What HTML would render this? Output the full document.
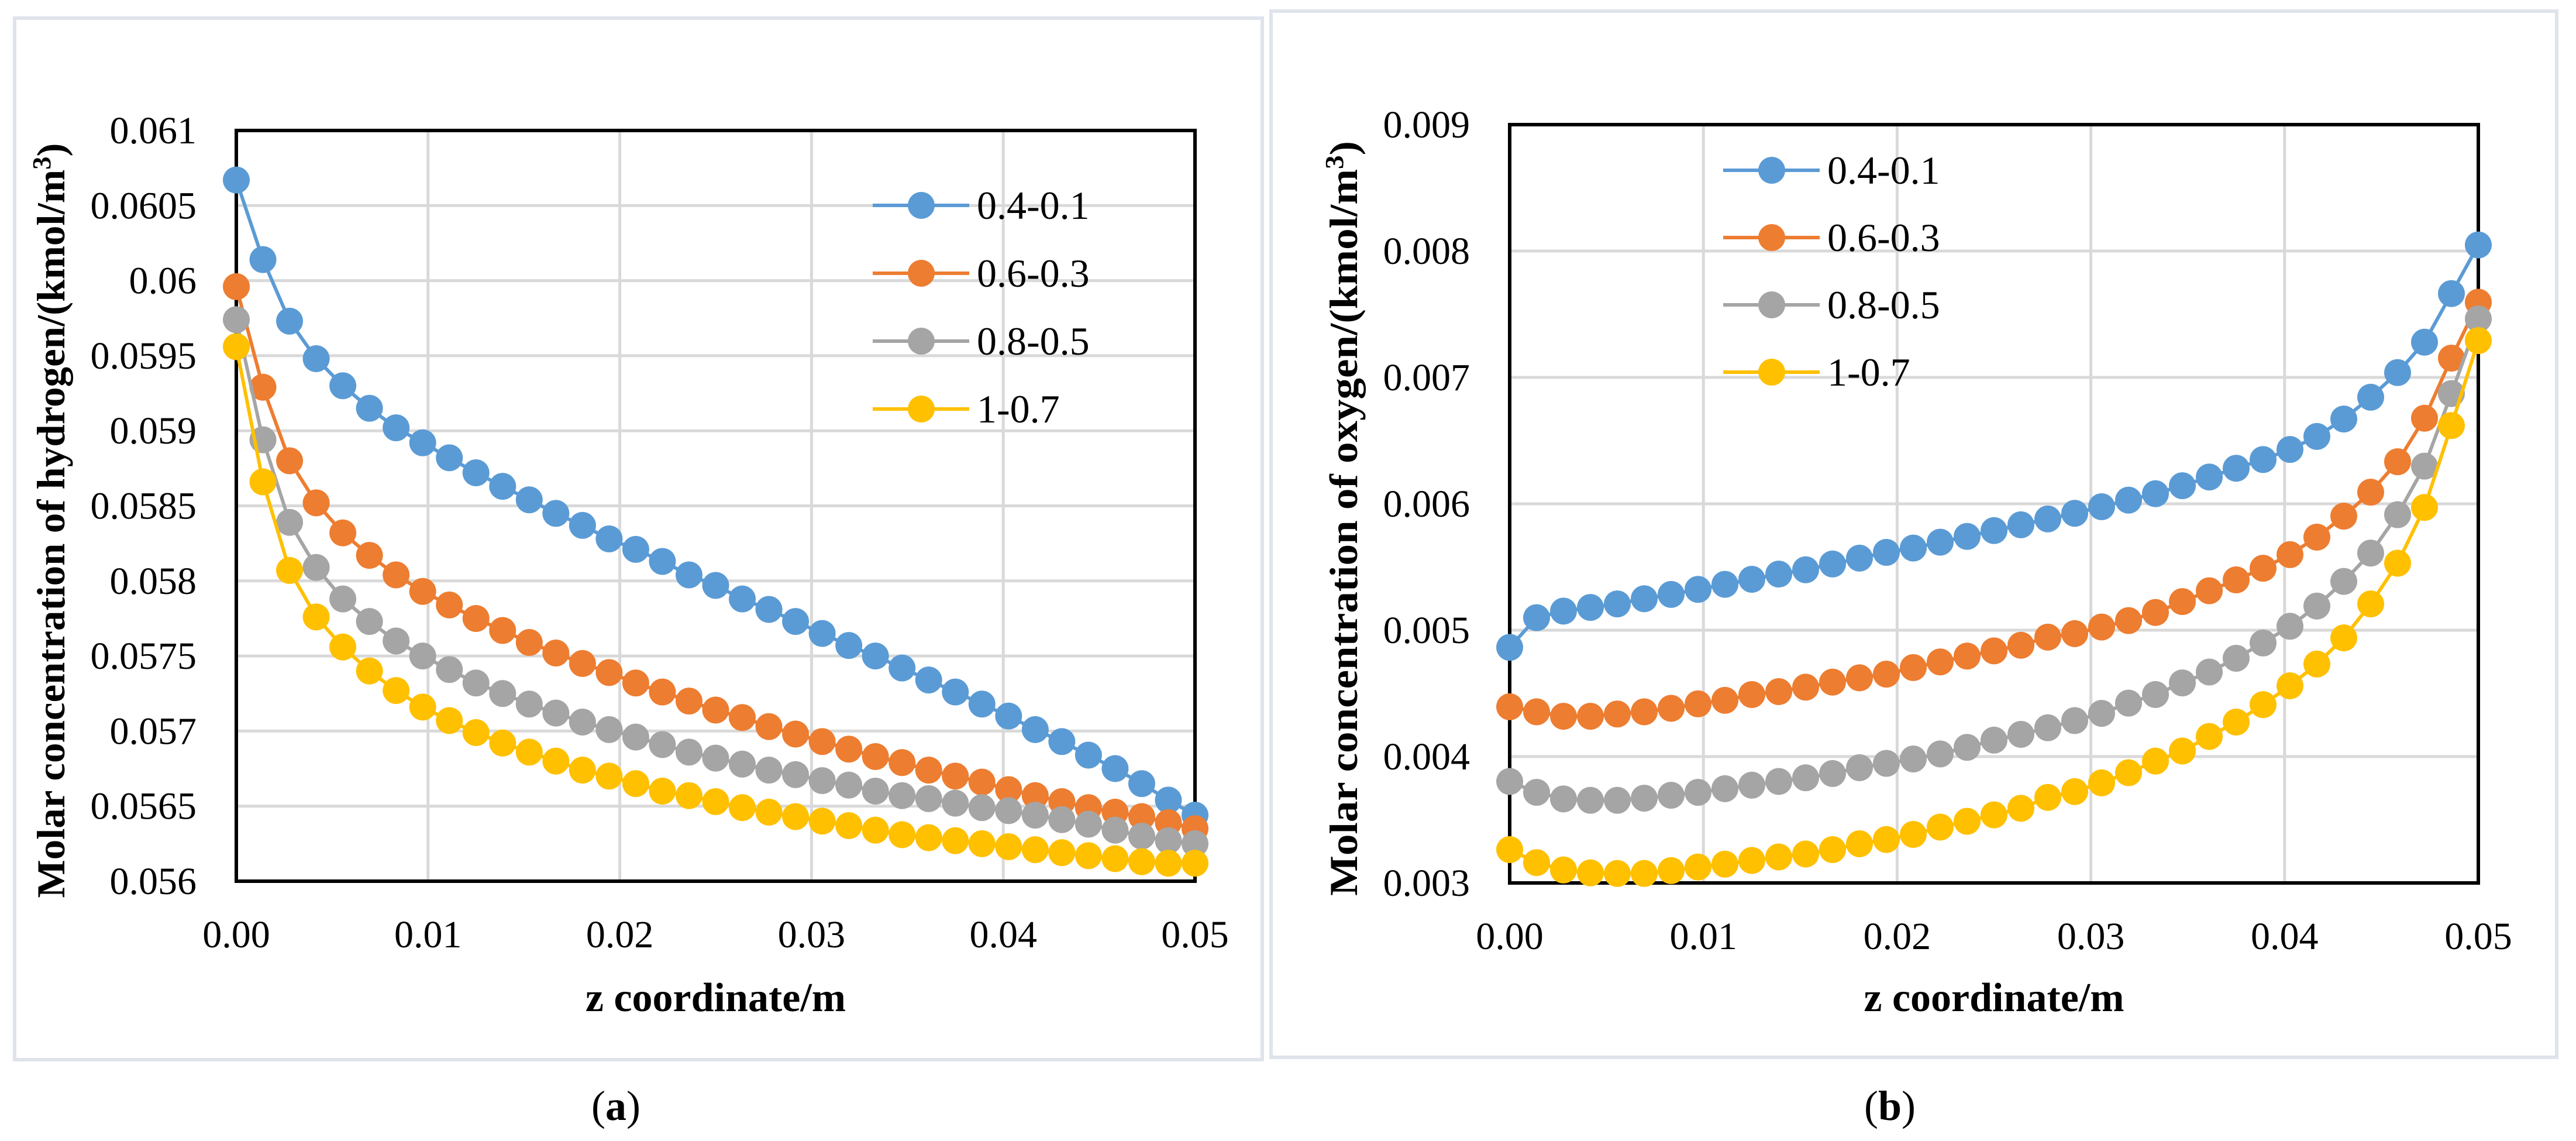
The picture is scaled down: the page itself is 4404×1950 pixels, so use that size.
<!DOCTYPE html>
<html><head><meta charset="utf-8"><style>
html,body{margin:0;padding:0;background:#fff;}
svg{display:block;font-family:"Liberation Serif",serif;}
</style></head><body>
<svg id="root" width="4404" height="1950" viewBox="0 0 4404 1950" xmlns="http://www.w3.org/2000/svg">
<rect x="25" y="31" width="2133" height="1780" fill="none" stroke="#dfe3eb" stroke-width="6"/>
<rect x="2173" y="19" width="2198" height="1788" fill="none" stroke="#dfe3eb" stroke-width="6"/>
<text x="1053" y="1914" font-size="72" text-anchor="middle">(<tspan font-weight="bold">a</tspan>)</text>
<text x="3231" y="1914" font-size="72" text-anchor="middle">(<tspan font-weight="bold">b</tspan>)</text>
<g id="chartA"></g>
<g id="chartB"></g>
</svg>
<script>
const seriesNames = ["0.4-0.1","0.6-0.3","0.8-0.5","1-0.7"];
const seriesColors = ["#5b9bd5","#ed7d31","#a5a5a5","#ffc000"];
const xTicks = [0,0.01,0.02,0.03,0.04,0.05];
const xTickLabels = ["0.00","0.01","0.02","0.03","0.04","0.05"];
const hTicks = [0.056,0.0565,0.057,0.0575,0.058,0.0585,0.059,0.0595,0.06,0.0605,0.061];
const hTickLabels = ["0.056","0.0565","0.057","0.0575","0.058","0.0585","0.059","0.0595","0.06","0.0605","0.061"];
const oTicks = [0.003,0.004,0.005,0.006,0.007,0.008,0.009];
const oTickLabels = ["0.003","0.004","0.005","0.006","0.007","0.008","0.009"];
const h1 = [0.06067,0.06014,0.05973,0.05948,0.05930,0.05915,0.05902,0.05892,0.05882,0.05872,0.05863,0.05854,0.05845,0.05837,0.05828,0.05821,0.05813,0.05804,0.05797,0.05788,0.05781,0.05773,0.05765,0.05757,0.05750,0.05742,0.05734,0.05726,0.05718,0.05710,0.05701,0.05693,0.05684,0.05675,0.05665,0.05654,0.05644];
const h2 = [0.05996,0.05929,0.05880,0.05852,0.05832,0.05817,0.05804,0.05793,0.05784,0.05775,0.05767,0.05759,0.05752,0.05745,0.05739,0.05732,0.05726,0.05720,0.05714,0.05709,0.05703,0.05698,0.05693,0.05688,0.05683,0.05679,0.05674,0.05670,0.05666,0.05661,0.05657,0.05653,0.05649,0.05646,0.05643,0.05639,0.05635];
const h3 = [0.05974,0.05894,0.05839,0.05809,0.05788,0.05773,0.05760,0.05750,0.05741,0.05732,0.05725,0.05718,0.05712,0.05706,0.05701,0.05696,0.05691,0.05686,0.05682,0.05678,0.05674,0.05671,0.05667,0.05664,0.05660,0.05657,0.05655,0.05652,0.05649,0.05647,0.05644,0.05641,0.05638,0.05634,0.05630,0.05627,0.05625];
const h4 = [0.05956,0.05866,0.05807,0.05776,0.05756,0.05740,0.05727,0.05716,0.05707,0.05699,0.05692,0.05686,0.05680,0.05674,0.05670,0.05665,0.05660,0.05657,0.05653,0.05649,0.05646,0.05643,0.05640,0.05637,0.05634,0.05631,0.05629,0.05627,0.05625,0.05623,0.05621,0.05619,0.05617,0.05615,0.05613,0.05612,0.05612];
const o1 = [0.004864,0.005099,0.005151,0.005180,0.005208,0.005249,0.005283,0.005323,0.005363,0.005403,0.005444,0.005478,0.005524,0.005570,0.005616,0.005650,0.005696,0.005742,0.005788,0.005834,0.005880,0.005925,0.005977,0.006029,0.006080,0.006143,0.006212,0.006281,0.006350,0.006430,0.006533,0.006671,0.006843,0.007038,0.007279,0.007663,0.008048];
const o2 = [0.004394,0.004354,0.004319,0.004319,0.004337,0.004354,0.004382,0.004417,0.004445,0.004491,0.004514,0.004549,0.004589,0.004623,0.004652,0.004704,0.004749,0.004795,0.004836,0.004881,0.004945,0.004973,0.005025,0.005076,0.005140,0.005226,0.005312,0.005398,0.005490,0.005598,0.005736,0.005902,0.006092,0.006333,0.006677,0.007153,0.007595];
const o3 = [0.003803,0.003717,0.003665,0.003654,0.003654,0.003671,0.003694,0.003717,0.003746,0.003774,0.003803,0.003832,0.003866,0.003912,0.003946,0.003981,0.004021,0.004073,0.004130,0.004176,0.004228,0.004285,0.004342,0.004423,0.004491,0.004583,0.004669,0.004778,0.004899,0.005031,0.005191,0.005386,0.005610,0.005914,0.006298,0.006872,0.007463];
const o4 = [0.003264,0.003161,0.003103,0.003080,0.003075,0.003075,0.003098,0.003126,0.003149,0.003178,0.003206,0.003229,0.003264,0.003310,0.003344,0.003384,0.003442,0.003488,0.003539,0.003591,0.003677,0.003723,0.003792,0.003872,0.003964,0.004044,0.004159,0.004273,0.004411,0.004560,0.004732,0.004939,0.005208,0.005530,0.005971,0.006619,0.007291];
const xMax = 0.05;

const NS = "http://www.w3.org/2000/svg";
function mk(parent, tag, attrs){ const e=document.createElementNS(NS,tag); for(const k in attrs) e.setAttribute(k,attrs[k]); parent.appendChild(e); return e; }

function drawChart(g, cfg){
  const {L,R,T,B,yMin,yMax,yTicks,yLabels,series,legX,legY,legDy,yTitle,yTitleX,xTitleY,key} = cfg;
  const sx = v => L + (v/xMax)*(R-L);
  const sy = v => B - (v-yMin)/(yMax-yMin)*(B-T);
  yTicks.forEach((t,i)=>{
    const gl = mk(g,"line",{x1:L,x2:R,y1:sy(t),y2:sy(t),stroke:"#d9d9d9","stroke-width":5});
    
    
    const tl = mk(g,"text",{x:L-68,y:sy(t)+22,"font-size":66,"text-anchor":"end"});
    tl.textContent = yLabels[i];
    
    
  });
  xTicks.forEach((t,i)=>{
    const gl = mk(g,"line",{x1:sx(t),x2:sx(t),y1:T,y2:B,stroke:"#d9d9d9","stroke-width":5});
    
    
    const tl = mk(g,"text",{x:sx(t),y:B+113,"font-size":66,"text-anchor":"middle"});
    tl.textContent = xTickLabels[i];
    
    
  });
  const fr = mk(g,"rect",{x:L,y:T,width:R-L,height:B-T,fill:"none",stroke:"#000","stroke-width":6});
  
  
  series.forEach((vals,si)=>{
    const col = seriesColors[si];
    const pts = vals.map((v,i)=>sx(i*xMax/(vals.length-1)).toFixed(1)+","+sy(v).toFixed(1)).join(" ");
    const pl = mk(g,"polyline",{points:pts,fill:"none",stroke:col,"stroke-width":6});
    
    
    vals.forEach((v,i)=>{
      const c = mk(g,"circle",{cx:sx(i*xMax/(vals.length-1)),cy:sy(v),r:23,fill:col});
      
      
    });
    const ly = legY + si*legDy;
    const ll = mk(g,"line",{x1:legX,x2:legX+165,y1:ly,y2:ly,stroke:col,"stroke-width":6});
    
    
    const lc = mk(g,"circle",{cx:legX+83,cy:ly,r:23,fill:col});
    
    
    const lt = mk(g,"text",{x:legX+178,y:ly+23,"font-size":68});
    lt.textContent = seriesNames[si];
    
    
  });
  const cy = (T+B)/2+25;
  const yt = mk(g,"text",{x:yTitleX,y:cy,"font-size":68,"font-weight":"bold","text-anchor":"middle",transform:`rotate(-90 ${yTitleX} ${cy})`,textLength:1290,lengthAdjust:"spacingAndGlyphs"});
  yt.innerHTML = yTitle;
  
  
  const xt = mk(g,"text",{x:(L+R)/2,y:xTitleY,"font-size":70,"font-weight":"bold","text-anchor":"middle"});
  xt.textContent = "z coordinate/m";
  
  
}

drawChart(document.getElementById("chartA"),{L:404,R:2043,T:223,B:1506,yMin:0.056,yMax:0.061,yTicks:hTicks,yLabels:hTickLabels,series:[h1,h2,h3,h4],legX:1492,legY:351,legDy:116,yTitle:"Molar concentration of hydrogen/(kmol/m<tspan baseline-shift=\"super\" font-size=\"44\">3</tspan>)",yTitleX:110,xTitleY:1728,key:"hydrogen"});
drawChart(document.getElementById("chartB"),{L:2581,R:4237,T:213,B:1509,yMin:0.003,yMax:0.009,yTicks:oTicks,yLabels:oTickLabels,series:[o1,o2,o3,o4],legX:2946,legY:291,legDy:115,yTitle:"Molar concentration of oxygen/(kmol/m<tspan baseline-shift=\"super\" font-size=\"44\">3</tspan>)",yTitleX:2320,xTitleY:1728,key:"oxygen"});
</script>
</body></html>
